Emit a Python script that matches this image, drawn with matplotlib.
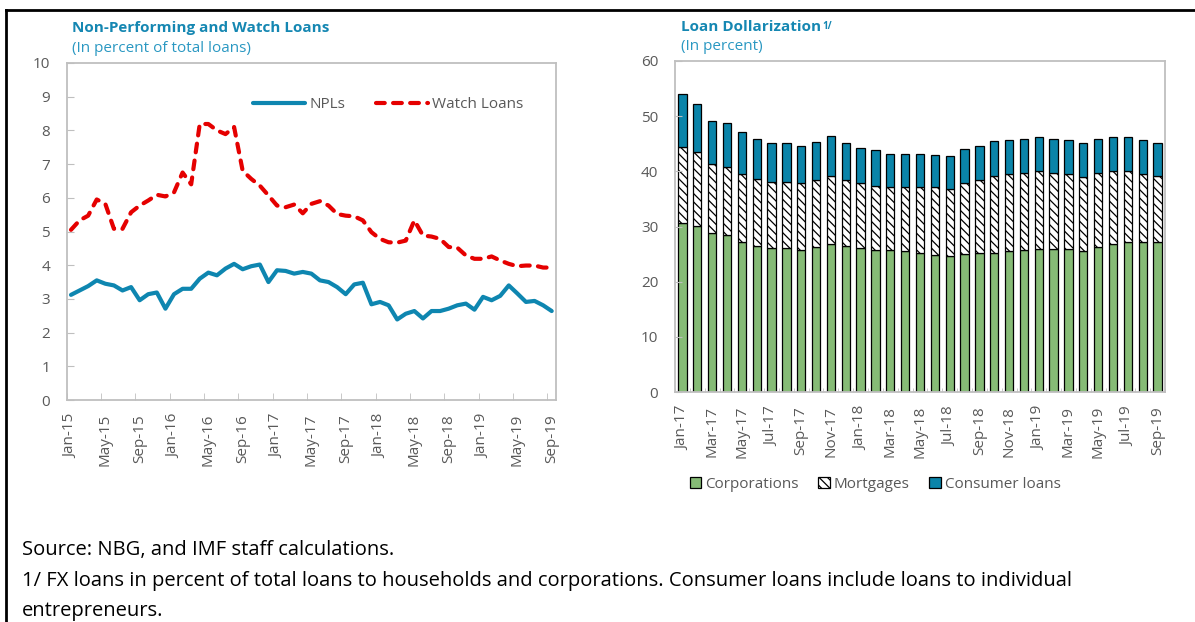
import numpy as np
import pandas as pd
import matplotlib
matplotlib.use("Agg")
import matplotlib.pyplot as plt
from matplotlib.patches import Patch
from matplotlib.lines import Line2D

plt.rcParams['font.family'] = ['Open Sans', 'DejaVu Sans']

# ---------------- data ----------------
left_months = pd.date_range('2015-01-01', periods=57, freq='MS').strftime('%b-%y').tolist()
npl = [3.12, 3.25, 3.38, 3.55, 3.45, 3.40, 3.25, 3.35, 2.96, 3.14, 3.19, 2.71, 3.14, 3.30, 3.30,
       3.60, 3.78, 3.70, 3.90, 4.04, 3.88, 3.97, 4.02, 3.50, 3.85, 3.83, 3.75, 3.80, 3.75, 3.55,
       3.50, 3.35, 3.14, 3.43, 3.48, 2.84, 2.91, 2.81, 2.39, 2.56, 2.64, 2.42, 2.64, 2.64, 2.71,
       2.81, 2.86, 2.68, 3.06, 2.96, 3.09, 3.40, 3.16, 2.91, 2.94, 2.81, 2.64]
watch = [5.05, 5.33, 5.47, 5.95, 5.82, 5.08, 5.08, 5.57, 5.77, 5.92, 6.09, 6.04, 6.16, 6.75, 6.40,
         8.19, 8.19, 8.00, 7.89, 8.10, 6.80, 6.56, 6.36, 6.07, 5.77, 5.72, 5.80, 5.54, 5.82, 5.90,
         5.77, 5.52, 5.47, 5.45, 5.33, 4.98, 4.78, 4.68, 4.67, 4.73, 5.33, 4.88, 4.85, 4.78, 4.54,
         4.52, 4.29, 4.19, 4.19, 4.26, 4.14, 4.04, 3.97, 3.99, 3.99, 3.93, 3.93]

right_months = pd.date_range('2017-01-01', periods=33, freq='MS').strftime('%b-%y').tolist()
corporations = [30.6, 30.1, 28.8, 28.5, 27.1, 26.5, 26.1, 26.1, 25.8, 26.2, 26.8, 26.5, 26.1, 25.8,
                25.8, 25.5, 25.2, 24.9, 24.7, 25.0, 25.2, 25.2, 25.5, 25.8, 25.9, 25.9, 25.9, 25.5,
                26.2, 26.8, 27.1, 27.1, 27.1]
mortgages = [13.9, 13.4, 12.5, 12.3, 12.4, 12.2, 12.0, 12.0, 12.1, 12.2, 12.4, 11.9, 11.8, 11.5,
             11.3, 11.6, 11.9, 12.2, 12.1, 12.9, 13.2, 14.0, 14.0, 13.9, 14.1, 13.8, 13.6, 13.5,
             13.5, 13.2, 12.9, 12.4, 12.1]
consumer = [9.5, 8.7, 7.8, 7.9, 7.6, 7.2, 7.0, 7.0, 6.7, 7.0, 7.2, 6.8, 6.4, 6.5, 6.1, 6.1, 6.1,
            5.9, 5.9, 6.1, 6.2, 6.3, 6.2, 6.2, 6.2, 6.2, 6.1, 6.1, 6.2, 6.2, 6.2, 6.1, 5.9]

# ---------------- style ----------------
W, H = 1195, 622
BLUE = '#0E86B0'
RED = '#E50000'
GREEN = '#86BB76'
CONS = '#0A84A9'
GRAY_TXT = '#595959'
SPINE = '#BFBFBF'
TITLE = '#1587B2'
SUB = '#2A98C2'

fig = plt.figure(figsize=(W / 100, H / 100), dpi=100)

def style_axis(ax):
    for s in ax.spines.values():
        s.set_color(SPINE)
        s.set_linewidth(1.3)
    ax.tick_params(which='both', direction='in', color=SPINE, labelcolor=GRAY_TXT, labelsize=11)

# ---------------- left chart ----------------
ax1 = fig.add_axes([66.7 / W, 1 - 400 / H, (556 - 66.7) / W, 337 / H])
x1 = np.arange(len(npl))
ax1.plot(x1, npl, color=BLUE, lw=3, solid_capstyle='round', solid_joinstyle='round', label='NPLs')
ax1.plot(x1, watch, color=RED, lw=3, ls=(0, (2.1, 2.0)), dash_capstyle='round',
         dash_joinstyle='round', label='Watch Loans')
ax1.set_xlim(-0.5, len(npl) - 0.5)
ax1.set_ylim(0, 10)
ax1.set_yticks(range(0, 11))
ax1.set_xticks(x1[::4])
ax1.set_xticklabels([left_months[i] for i in x1[::4]], rotation=90)
ax1.set_xticks(np.arange(-0.5, len(npl), 4), minor=True)
style_axis(ax1)
ax1.tick_params(axis='x', which='major', length=0, pad=10)
ax1.tick_params(axis='x', which='minor', length=5)
ax1.tick_params(axis='y', length=5, pad=12)
ax1.legend(loc='center left', bbox_to_anchor=(253 / W, 1 - 105 / H), bbox_transform=fig.transFigure,
           ncol=2, frameon=False, handlelength=3.4, handletextpad=0.3, columnspacing=2.0,
           borderpad=0, borderaxespad=0, fontsize=11, labelcolor=GRAY_TXT)

# ---------------- right chart ----------------
ax2 = fig.add_axes([675 / W, 1 - 392 / H, 490 / W, 331 / H])
x2 = np.arange(len(corporations))
bw = 0.56
plt.rcParams['hatch.linewidth'] = 0.9
ax2.bar(x2, corporations, bw, color=GREEN, edgecolor='black', linewidth=0.9)
b_m = np.array(corporations)
ax2.bar(x2, mortgages, bw, bottom=b_m, color='white', edgecolor='black', linewidth=0.9,
        hatch='\\\\\\\\')
b_c = b_m + np.array(mortgages)
ax2.bar(x2, consumer, bw, bottom=b_c, color=CONS, edgecolor='black', linewidth=0.9)
ax2.set_xlim(-0.5, len(corporations) - 0.5)
ax2.set_ylim(0, 60)
ax2.set_yticks(range(0, 61, 10))
ax2.set_xticks(x2[::2])
ax2.set_xticklabels([right_months[i] for i in x2[::2]], rotation=90)
ax2.set_xticks(np.arange(-0.5, len(corporations), 1), minor=True)
style_axis(ax2)
ax2.tick_params(axis='x', which='major', length=0, pad=10)
ax2.tick_params(axis='x', which='minor', length=3)
ax2.tick_params(axis='y', length=5, pad=12)

handles = [Patch(facecolor=GREEN, edgecolor='black', linewidth=0.9),
           Patch(facecolor='white', edgecolor='black', linewidth=0.9, hatch='\\\\\\\\'),
           Patch(facecolor=CONS, edgecolor='black', linewidth=0.9)]
fig.legend(handles, ['Corporations', 'Mortgages', 'Consumer loans'], loc='center',
           bbox_to_anchor=(875 / W, 1 - 484 / H), ncol=3, frameon=False, fontsize=11,
           handlelength=0.75, handleheight=0.75, handletextpad=0.25, columnspacing=1.3,
           labelcolor=GRAY_TXT, borderpad=0)

# ---------------- titles ----------------
fig.text(72 / W, 1 - 28 / H, 'Non-Performing and Watch Loans', fontsize=11, weight='bold',
         color=TITLE, va='center', ha='left')
fig.text(72 / W, 1 - 48 / H, '(In percent of total loans)', fontsize=11, color=SUB,
         va='center', ha='left')
t2 = fig.text(681 / W, 1 - 27 / H, 'Loan Dollarization', fontsize=11, weight='bold',
              color=TITLE, va='center', ha='left')
fig.text(681 / W, 1 - 47 / H, '(In percent)', fontsize=11, color=SUB, va='center', ha='left')
ax2.annotate('1/', xy=(1, 0.9), xycoords=t2, va='top', ha='left', fontsize=7, weight='bold',
             color=TITLE, xytext=(1, 0), textcoords='offset points', annotation_clip=False)

# ---------------- footnotes ----------------
FN = 14.5
fig.text(22 / W, 1 - 550 / H, 'Source: NBG, and IMF staff calculations.', fontsize=FN,
         va='center', ha='left', color='black')
fig.text(22 / W, 1 - 581 / H, '1/ FX loans in percent of total loans to households and corporations. '
         'Consumer loans include loans to individual', fontsize=FN, va='center', ha='left', color='black')
fig.text(22 / W, 1 - 611 / H, 'entrepreneurs.', fontsize=FN, va='center', ha='left', color='black')

# ---------------- frame lines ----------------
fig.add_artist(Line2D([6 / W, 1], [1 - 10 / H, 1 - 10 / H], transform=fig.transFigure,
                      color='black', lw=2))
fig.add_artist(Line2D([6 / W, 6 / W], [0, 1 - 10 / H], transform=fig.transFigure,
                      color='black', lw=2))

fig.savefig('out.png', dpi=100)
